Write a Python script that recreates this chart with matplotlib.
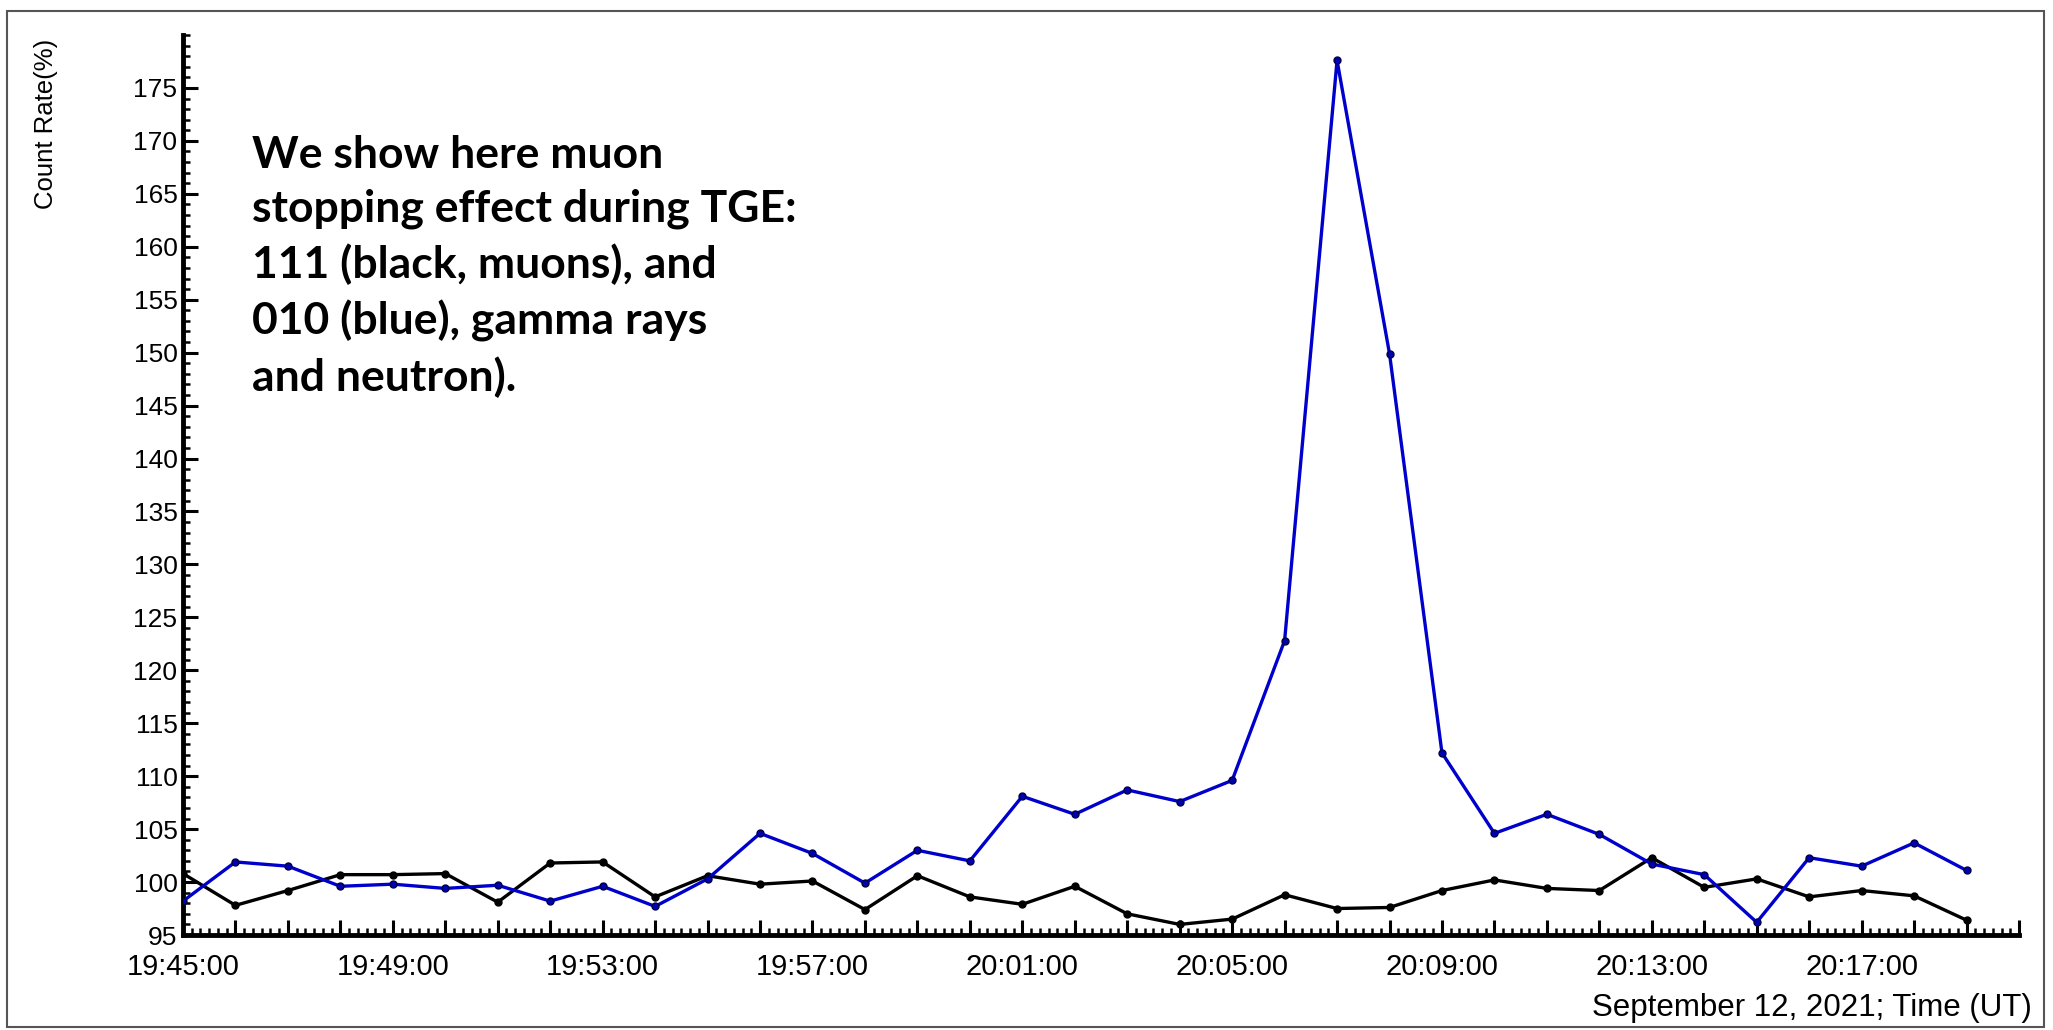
import numpy as np
import pandas as pd
import matplotlib
matplotlib.use('Agg')
import matplotlib.pyplot as plt
import matplotlib.dates as mdates
from matplotlib.ticker import MultipleLocator
from matplotlib.patches import Rectangle

# one sample per minute, 19:45 .. 20:19 UT
times = pd.date_range('2021-09-12 19:45', periods=35, freq='min')

# 010 (blue): gamma rays and neutrons, count rate in %
rate_010 = [98.2, 101.9, 101.5, 99.6, 99.8, 99.4, 99.7, 98.2, 99.6, 97.7,
            100.3, 104.6, 102.7, 99.9, 103.0, 102.0, 108.1, 106.4, 108.7, 107.6,
            109.6, 122.8, 177.6, 149.9, 112.2, 104.6, 106.4, 104.5, 101.7, 100.7,
            96.2, 102.3, 101.5, 103.7, 101.1]
# 111 (black): muons, count rate in %
rate_111 = [100.8, 97.8, 99.2, 100.7, 100.7, 100.8, 98.1, 101.8, 101.9, 98.6,
            100.6, 99.8, 100.1, 97.4, 100.6, 98.6, 97.9, 99.6, 97.0, 96.0,
            96.5, 98.8, 97.5, 97.6, 99.2, 100.2, 99.4, 99.2, 102.3, 99.5,
            100.3, 98.6, 99.2, 98.7, 96.4]

note = ('We show here muon\nstopping effect during TGE:\n111 (black, muons), and\n'
        '010 (blue), gamma rays\nand neutron).')

plt.rcParams['font.family'] = ['Liberation Sans', 'DejaVu Sans']

fig = plt.figure(figsize=(20.53, 10.30), dpi=100)
ax = fig.add_axes([183/2053, 1 - 935/1030, (2019-183)/2053, (935-35)/1030])

ax.plot(times, rate_111, color='black', lw=2.4, marker='o', ms=5,
        mfc='black', mec='black', zorder=3)
ax.plot(times, rate_010, color='#0000cc', lw=2.4, marker='o', ms=5,
        mfc='#0000b0', mec='#000040', zorder=4)

ax.set_ylim(95, 180)
ax.set_xlim(pd.Timestamp('2021-09-12 19:45'), pd.Timestamp('2021-09-12 20:20'))

# y ticks
ax.yaxis.set_minor_locator(MultipleLocator(1))
ax.set_yticks(np.arange(95, 180, 5))

# x ticks: major each minute, label every 4 minutes, minor every 10 s
ax.xaxis.set_major_locator(mdates.MinuteLocator(interval=1))
ax.xaxis.set_minor_locator(mdates.SecondLocator(bysecond=range(0, 60, 10)))

def fmt(x, pos):
    t = mdates.num2date(x)
    m = t.hour * 60 + t.minute - (19 * 60 + 45)
    return t.strftime('%H:%M:%S') if m % 4 == 0 and m < 35 else ''

ax.xaxis.set_major_formatter(plt.FuncFormatter(fmt))

ax.tick_params(axis='both', which='major', direction='in', length=11, width=2.2,
               labelsize=19, color='black')
ax.tick_params(axis='both', which='minor', direction='in', length=5, width=1.8)
ax.tick_params(axis='x', which='major', pad=13, labelsize=21)
ax.tick_params(axis='y', which='major', pad=4)

for s in ['top', 'right']:
    ax.spines[s].set_visible(False)
for s in ['left', 'bottom']:
    ax.spines[s].set_linewidth(3.5)

fig.text(46/2053, 1 - 39/1030, 'Count Rate(%)', rotation=90, ha='center', va='top',
         fontsize=18.5)
fig.text(2032/2053, 1 - 1008/1030, 'September 12, 2021; Time (UT)', ha='right',
         va='center', fontsize=22.5)

# note block: va='baseline' pins the last line's baseline
fig.text(252/2053, 1 - 391/1030, note, ha='left', va='baseline',
         fontsize=32, fontweight='bold', family=['Lato', 'DejaVu Sans'],
         linespacing=1.42)

# thin frame round the picture
fig.patches.append(Rectangle((7/2053, 3/1030), (2044-7)/2053, (1019-3)/1030,
                             transform=fig.transFigure, fill=False,
                             edgecolor='#555555', lw=1.5))

plt.savefig('out.png', dpi=100)
